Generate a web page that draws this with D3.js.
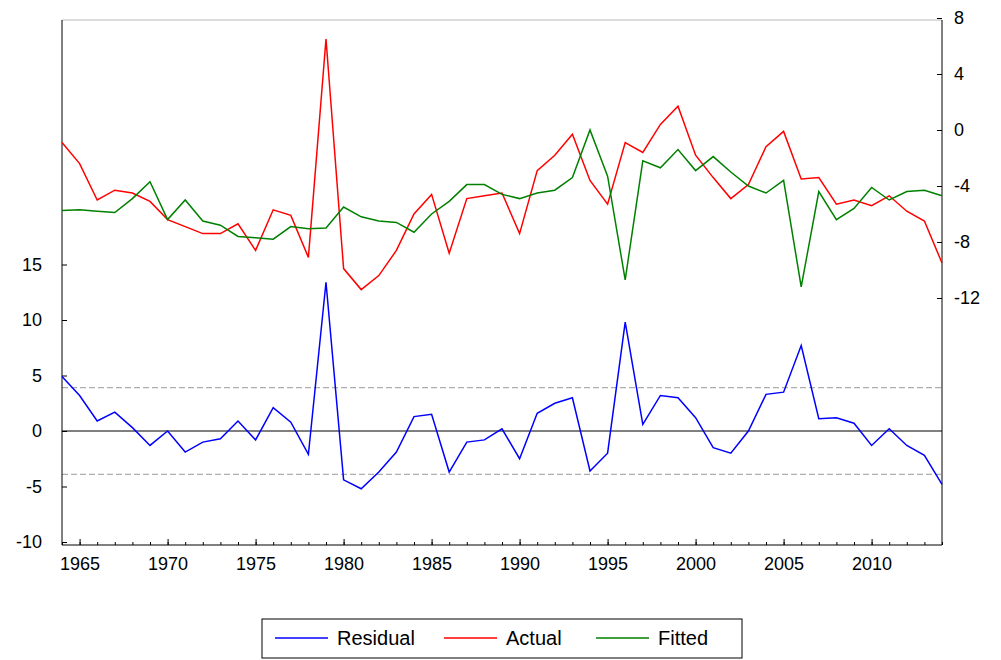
<!DOCTYPE html>
<html><head><meta charset="utf-8">
<script src="https://cdn.jsdelivr.net/npm/d3@7"></script>
<style>body{margin:0;background:#fff}text{font-family:Arial,"Liberation Sans",sans-serif}</style>
</head><body><svg width="1001" height="660"></svg>
<script>
const years = d3.range(1964, 2015);
const residual = [4.9,3.2,0.9,1.7,0.3,-1.3,0,-1.9,-1.0,-0.7,0.9,-0.8,2.1,0.8,-2.1,13.4,-4.4,-5.2,-3.7,-1.9,1.3,1.5,-3.7,-1.0,-0.8,0.2,-2.5,1.6,2.5,3.0,-3.6,-2.0,9.8,0.6,3.2,3.0,1.2,-1.5,-2.0,0,3.3,3.5,7.7,1.1,1.2,0.7,-1.3,0.2,-1.3,-2.2,-4.8];
const actual = [-0.9,-2.4,-5.0,-4.3,-4.5,-5.1,-6.4,-6.9,-7.4,-7.4,-6.7,-8.6,-5.7,-6.1,-9.1,6.5,-9.9,-11.4,-10.4,-8.6,-6.0,-4.6,-8.8,-4.9,-4.7,-4.5,-7.4,-2.9,-1.8,-0.3,-3.6,-5.3,-0.9,-1.6,0.4,1.7,-1.8,-3.4,-4.9,-3.9,-1.2,-0.1,-3.5,-3.4,-5.3,-5.0,-5.4,-4.7,-5.8,-6.5,-9.5];
const fitted = [-5.75,-5.7,-5.8,-5.9,-4.9,-3.7,-6.4,-5.0,-6.5,-6.8,-7.6,-7.7,-7.8,-6.9,-7.05,-7.0,-5.5,-6.2,-6.5,-6.6,-7.3,-6.0,-5.1,-3.9,-3.9,-4.6,-4.9,-4.5,-4.3,-3.4,0.0,-3.3,-10.7,-2.2,-2.7,-1.4,-2.9,-1.9,-3.0,-4.0,-4.5,-3.6,-11.2,-4.4,-6.4,-5.6,-4.1,-5.0,-4.4,-4.3,-4.7];
const leftTicks = [-10,-5,0,5,10,15];
const rightTicks = [-12,-8,-4,0,4,8];
const xTicks = [1965,1970,1975,1980,1985,1990,1995,2000,2005,2010];
const bandSE = 3.9;

const L = 62, R = 942, T = 20, B = 545;
const svg = d3.select('svg');
const x = d3.scaleLinear().domain([1964, 2014]).range([L, R]);
const yL = d3.scaleLinear().domain([0, 10]).range([431, 320]);
const yR = d3.scaleLinear().domain([0, 8]).range([130, 18]);
const fmt = d => String(d);

// band lines
[bandSE, -bandSE].forEach(v => svg.append('line').attr('x1', L).attr('x2', R)
  .attr('y1', yL(v)).attr('y2', yL(v)).attr('stroke', '#999').attr('stroke-dasharray', '6,3'));
svg.append('line').attr('x1', L).attr('x2', R).attr('y1', yL(0)).attr('y2', yL(0)).attr('stroke', '#000');

// frame
svg.append('line').attr('x1', L).attr('x2', R).attr('y1', T).attr('y2', T).attr('stroke', '#bbb');
svg.append('line').attr('x1', L).attr('x2', R).attr('y1', B).attr('y2', B).attr('stroke', '#000');
svg.append('line').attr('x1', L).attr('x2', L).attr('y1', T).attr('y2', B).attr('stroke', '#000');
svg.append('line').attr('x1', R).attr('x2', R).attr('y1', T).attr('y2', B).attr('stroke', '#000');

const gl = svg.append('g').attr('transform', `translate(${L},0)`)
  .call(d3.axisRight(yL).tickValues(leftTicks).tickSize(5).tickFormat(fmt));
gl.select('.domain').remove();
gl.selectAll('text').attr('x', -20).attr('text-anchor', 'end').attr('font-size', 18);
const gr = svg.append('g').attr('transform', `translate(${R},0)`)
  .call(d3.axisLeft(yR).tickValues(rightTicks).tickSize(5).tickFormat(fmt));
gr.select('.domain').remove();
gr.selectAll('text').attr('x', 12).attr('text-anchor', 'start').attr('font-size', 18);
const gx = svg.append('g').attr('transform', `translate(0,${B})`)
  .call(d3.axisTop(x).tickValues(xTicks).tickSize(6).tickFormat(fmt));
gx.select('.domain').remove();
gx.selectAll('text').attr('y', 25).attr('font-size', 18);
svg.append('g').attr('transform', `translate(0,${B})`)
  .call(d3.axisTop(x).tickValues(years).tickSize(3).tickFormat('')).select('.domain').remove();

const lineL = d3.line().x((d, i) => x(years[i])).y(d => yL(d));
const lineR = d3.line().x((d, i) => x(years[i])).y(d => yR(d));
svg.append('path').datum(residual).attr('d', lineL).attr('fill', 'none').attr('stroke', '#0000ff').attr('stroke-width', 1.5);
svg.append('path').datum(actual).attr('d', lineR).attr('fill', 'none').attr('stroke', '#ff0000').attr('stroke-width', 1.5);
svg.append('path').datum(fitted).attr('d', lineR).attr('fill', 'none').attr('stroke', '#008000').attr('stroke-width', 1.5);

// legend
svg.append('rect').attr('x', 262).attr('y', 619).attr('width', 480).attr('height', 39).attr('fill', 'none').attr('stroke', '#000');
const leg = [['Residual', '#0000ff', 275], ['Actual', '#ff0000', 444], ['Fitted', '#008000', 596]];
leg.forEach(([t, c, lx]) => {
  svg.append('line').attr('x1', lx).attr('x2', lx + 53).attr('y1', 638).attr('y2', 638).attr('stroke', c).attr('stroke-width', 1.5);
  svg.append('text').attr('x', lx + 62).attr('y', 645).attr('font-size', 20).text(t);
});
</script></body></html>
